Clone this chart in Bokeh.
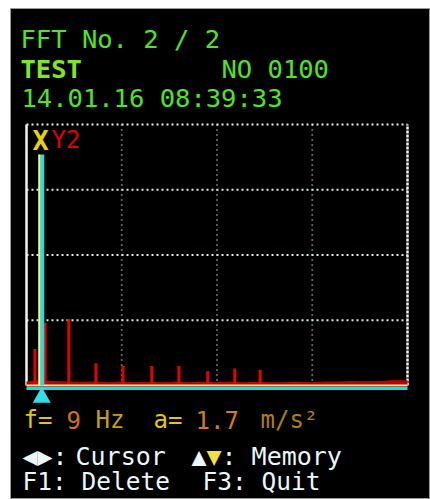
from bokeh.plotting import figure
from bokeh.models import Range1d
from bokeh.core.properties import value
from bokeh.embed import file_html
from bokeh.resources import INLINE

# ---------------- data ----------------
header_title = "FFT No. 2 / 2"
header_name = "TEST"
header_no = "NO 0100"
header_time = "14.01.16 08:39:33"

freq_full_scale = 225.0            # Hz across the grid
amp_full_scale = 2.0               # m/s^2 across the grid
x_grid_hz = [56.25, 112.5, 168.75]
y_grid_amp = [0.5, 1.0, 1.5]

peak_freq = [5, 11, 25, 41, 57, 74, 90, 107, 123, 138]
peak_amp = [0.28, 0.48, 0.51, 0.17, 0.15, 0.15, 0.15, 0.11, 0.13, 0.12]

noise_freq = [0, 8, 16, 24, 32, 40, 48, 56, 64, 72, 80, 88, 96, 104, 112, 120,
              128, 136, 144, 152, 160, 168, 176, 184, 192, 200, 208, 216, 225]
noise_amp = [0.03, 0.04, 0.035, 0.03, 0.028, 0.03, 0.025, 0.03, 0.025, 0.028,
             0.025, 0.03, 0.025, 0.028, 0.025, 0.03, 0.025, 0.028, 0.025, 0.025,
             0.028, 0.025, 0.03, 0.03, 0.035, 0.032, 0.035, 0.04, 0.04]

cursor_freq = 9
cursor_amp = 1.7
cursor_line_top = 1.77

# ---------------- layout (page pixels) ----------------
W, H = 430, 499
BL, BT = 10, 8                      # white band left / top
FW, FH = W - BL, H - BT             # frame size
G_LEFT, G_RIGHT = 26, 407           # grid edges, page x
G_TOP, G_BOTTOM = 124, 385          # grid edges, page y
TEXT_SHIFT = -10                    # baseline correction of the text glyph
gw = G_RIGHT - G_LEFT
gh = G_BOTTOM - G_TOP
hz_per_px = freq_full_scale / gw
amp_per_px = amp_full_scale / gh
x0 = -(G_LEFT - BL) * hz_per_px
x1 = x0 + FW * hz_per_px
y0 = -(H - G_BOTTOM) * amp_per_px
y1 = y0 + FH * amp_per_px


def dx(page_x):
    return x0 + (page_x - BL) * hz_per_px


def dy(page_y):
    return y0 + (H - page_y) * amp_per_px


p = figure(width=W, height=H, output_backend="svg", toolbar_location=None,
           x_range=Range1d(x0, x1), y_range=Range1d(y0, y1),
           min_border_left=BL, min_border_top=BT,
           min_border_right=0, min_border_bottom=0)
p.xaxis.visible = False
p.yaxis.visible = False
p.xgrid.visible = False
p.ygrid.visible = False
p.background_fill_color = "black"
p.border_fill_color = "white"
p.outline_line_color = "#9A9A9A"
p.outline_line_width = 1

# inner dotted grid
p.segment(x0=x_grid_hz, y0=[0] * len(x_grid_hz), x1=x_grid_hz,
          y1=[amp_full_scale] * len(x_grid_hz),
          line_color="#C8C0B0", line_width=1.8, line_dash="1 4")
p.segment(x0=[0] * len(y_grid_amp), y0=y_grid_amp,
          x1=[freq_full_scale] * len(y_grid_amp), y1=y_grid_amp,
          line_color="#D8ECEC", line_width=2, line_dash="2 3")
# frame edges
p.segment(x0=[0], y0=[0], x1=[0], y1=[amp_full_scale],
          line_color="#F2F2F2", line_width=2.5)
p.segment(x0=[0], y0=[amp_full_scale], x1=[freq_full_scale], y1=[amp_full_scale],
          line_color="#F0EEDD", line_width=2.2, line_dash="2 3")
p.segment(x0=[freq_full_scale], y0=[0], x1=[freq_full_scale], y1=[amp_full_scale],
          line_color="#F2F2F2", line_width=2.5, line_dash="3 1")

# spectrum noise floor and peaks
p.varea(x=noise_freq, y1=[0] * len(noise_freq), y2=noise_amp, fill_color="#C00000")
p.vbar(x=peak_freq, top=peak_amp, bottom=0, width=3.0 * hz_per_px,
       fill_color="#E80000", line_color=None)

# baseline (yellow over cyan)
p.segment(x0=[0], y0=[-3.0 * amp_per_px], x1=[freq_full_scale], y1=[-3.0 * amp_per_px],
          line_color="#20D8E0", line_width=3)
p.segment(x0=[0], y0=[0], x1=[freq_full_scale], y1=[0],
          line_color="#F4F0A0", line_width=2)

# cursor
p.segment(x0=[cursor_freq], y0=[0], x1=[cursor_freq], y1=[cursor_line_top],
          line_color="#30D8D8", line_width=5)
p.segment(x0=[cursor_freq - 1.5], y0=[0], x1=[cursor_freq - 1.5], y1=[cursor_line_top],
          line_color="#F8F080", line_width=2)
p.scatter(x=[cursor_freq], y=[-12.0 * amp_per_px], marker="triangle", size=18,
          fill_color="#30E0E8", line_color=None)

FONT = value("DejaVu Sans Mono")


def lab(txt, page_x, page_y, color, size="25px", bold=False):
    p.text(x=[dx(page_x)], y=[dy(page_y + TEXT_SHIFT)], text=[txt], text_color=color,
           text_font=FONT, text_font_size=size,
           text_font_style="bold" if bold else "normal",
           text_baseline="alphabetic", text_align="left")


GREEN = "#4EE61E"
lab(header_title, 20, 48, GREEN, size="25.5px")
lab(header_name, 20, 78, "#7EE81E", size="25.5px", bold=True)
lab(header_no, 221, 78, GREEN, size="25.5px")
lab(header_time, 21, 107, GREEN, size="25.5px")

# channel label inside the plot
lab("X", 32, 150, "#E8D400", size="27px", bold=True)
lab("Y2", 51, 149, "#E00000", size="24px")

# readout
YEL = "#E6C800"
lab("f=", 23, 429, YEL, size="24px")
lab("9", 66, 429, "#D07010", size="24px")
lab("Hz", 95, 429, "#C8A000", size="24px")
lab("a=", 153, 429, YEL, size="24px")
lab("1.7", 195, 429, "#D08010", size="24px")
lab("m/s²", 260, 429, "#B08000", size="24px")

WHITE = "#EAF8F8"
lab("◀▶:", 22, 466, WHITE)
lab("Cursor", 75, 466, WHITE)
lab("▲", 191, 466, WHITE)
lab("▼", 206, 466, "#F0E040")
lab(": Memory", 221, 466, WHITE)
lab("F1: Delete", 22, 491, WHITE, size="24.5px")
lab("F3: Quit", 202, 491, WHITE, size="24.5px")

open("out.html", "w").write(file_html(p, INLINE))
